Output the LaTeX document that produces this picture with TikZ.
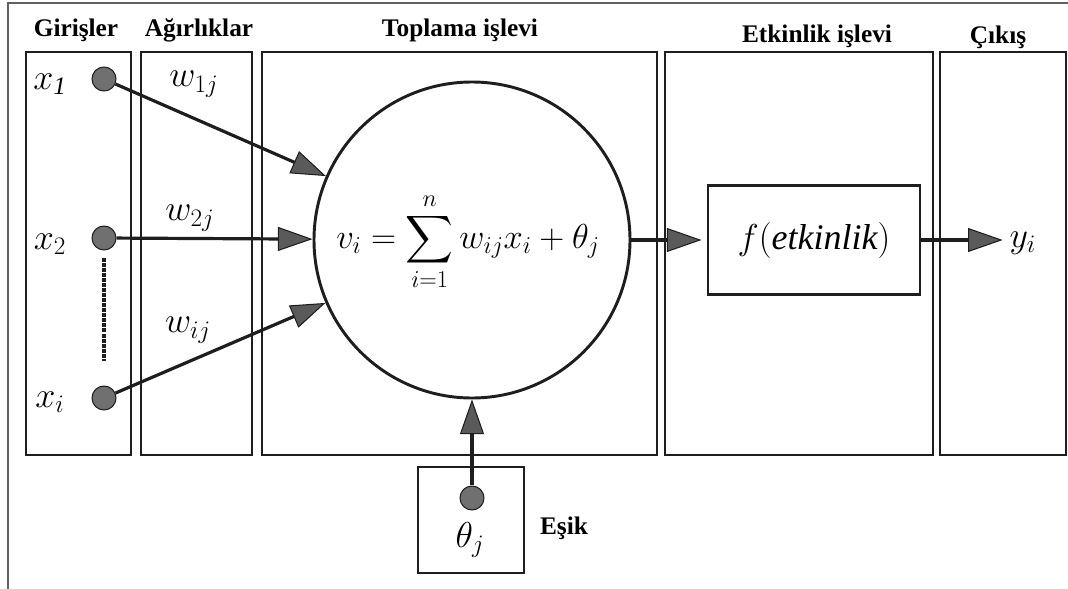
\documentclass[tikz,border=0pt]{standalone}
\usepackage{fix-cm}
\usepackage{amsmath}
\usepackage{fontspec}
\setmainfont{Liberation Serif}
\usetikzlibrary{arrows.meta,positioning}
\definecolor{ink}{HTML}{1E1E1E}
\definecolor{dotgray}{HTML}{707070}
\definecolor{tipgray}{HTML}{5A5A5A}

\begin{document}
\begin{tikzpicture}[x=0.75pt,y=-0.75pt,
  >={Triangle[length=26pt,width=18pt,fill=tipgray,line width=0.8pt]},
  col/.style={draw=ink,line width=1.8pt,minimum height=302pt},
  hdr/.style={font=\fontsize{19}{22}\selectfont\bfseries},
  dot/.style={circle,draw=ink,fill=dotgray,line width=0.8pt,minimum size=18pt,inner sep=0pt},
  lbl/.style={font=\fontsize{27}{30}\selectfont,inner sep=1pt},
  wire/.style={->,draw=ink,line width=2.4pt}]
  \useasboundingbox (0,0) rectangle (1068,589);
  \draw[ink!70,line width=1.2pt] (8,589) -- (8,3) -- (1068,3);
  % columns
  \node[col,minimum width=78.75pt] (incol) at (78.5,253.5) {};
  \node[col,minimum width=83.25pt] (wcol) at (196.5,253.5) {};
  \node[col,minimum width=296.25pt] (sumcol) at (459.5,253.5) {};
  \node[col,minimum width=201pt] (actcol) at (799,253.5) {};
  \node[col,minimum width=94.5pt] (outcol) at (1003,253.5) {};
  \node[hdr] (hin) at (76,30) {Girişler};
  \node[hdr] (hw) at (199,30) {Ağırlıklar};
  \node[hdr] (hsum) at (460,30) {Toplama işlevi};
  \node[hdr] (hact) at (817,36) {Etkinlik işlevi};
  \node[hdr] (hout) at (998,37) {Çıkış};
  % inputs
  \node[dot] (d1) at (104,79) {};
  \node[dot] (d2) at (104,238) {};
  \node[dot] (di) at (104,398) {};
  \node[lbl] (x1) at (50,84) {$x_{\mathit{1}}$};
  \node[lbl] (x2) at (50,244) {$x_2$};
  \node[lbl] (xi) at (50,402) {$x_i$};
  \draw[ink,line width=2.6pt,dash pattern=on 3pt off 0.8pt] (d2.south) ++(0,7) coordinate (dtop) (di.north) ++(0,-24) coordinate (dbot);
  \draw[ink,line width=2.6pt,dash pattern=on 3pt off 0.8pt] (dtop) -- (dbot);
  \node[lbl] (w1) at (194,84) {$w_{1j}$};
  \node[lbl] (w2) at (190,218) {$w_{2j}$};
  \node[lbl] (wi) at (188,330) {$w_{ij}$};
  % neuron
  \node[circle,draw=ink,line width=2.2pt,minimum size=237pt,inner sep=0pt] (neuron) at (472,240) {};
  \node[font=\fontsize{26}{30}\selectfont,inner sep=0pt] (sum) at (468,242) {$\displaystyle v_i=\sum_{i=1}^{n}w_{ij}x_i+\theta_j$};
  \draw[wire] (d1) -- (neuron);
  \draw[wire] (d2) -- (neuron);
  \draw[wire] (di) -- (neuron);
  % threshold
  \node[draw=ink,line width=1.8pt,minimum width=79.5pt,minimum height=79.5pt] (tbox) at (471,520) {};
  \node[dot] (dt) at (472,498) {};
  \node[lbl] (th) at (470,540) {$\theta_j$};
  \node[hdr] (esik) at (564,528) {Eşik};
  \draw[wire] (dt) -- (neuron);
  % activation and output
  \node[draw=ink,line width=1.8pt,minimum width=159pt,minimum height=81.75pt,font=\fontsize{27}{30}\selectfont] (fbox) at (814,240) {$f(\mathit{etkinlik})$};
  \node[lbl,anchor=west] (yout) at (1008,243) {$y_i$};
  \draw[wire,shorten >=4pt] (neuron) -- (fbox);
  \draw[wire,shorten >=4pt] (fbox.east) -- (fbox.east -| yout.west);
\end{tikzpicture}
\end{document}
